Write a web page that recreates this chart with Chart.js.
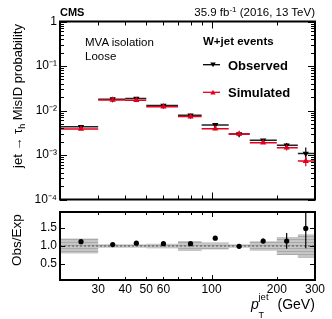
<!DOCTYPE html>
<html>
<head>
<meta charset="utf-8">
<script src="https://cdn.jsdelivr.net/npm/chart.js@4.4.1/dist/chart.umd.min.js"></script>
<style>
  body { margin: 0; background: #fff; }
  #caixa { position: relative; width: 332px; height: 319px; font-family: 'Liberation Sans', Arial, sans-serif; color: #000; }
  #caixa canvas { position: absolute; left: 0; top: 0; }
  .t { position: absolute; line-height: 1; white-space: nowrap; }
</style>
</head>
<body>
<div id="caixa">
  <canvas id="graficoSup" width="332" height="319"></canvas>
  <canvas id="graficoInf" width="332" height="319"></canvas>

  <div class="t" style="left:60px;top:7px;font-size:11px;font-weight:bold">CMS</div>
  <div class="t" style="right:17px;top:7px;font-size:11.5px">35.9 fb<span style="font-size:8px;position:relative;top:-4px">-1</span> (2016, 13 TeV)</div>

  <div class="t" style="left:85px;top:37px;font-size:11.5px">MVA isolation</div>
  <div class="t" style="left:85px;top:51px;font-size:11.5px">Loose</div>

  <div class="t" style="left:203px;top:36px;font-size:11.5px;font-weight:bold">W+jet events</div>
  <div class="t" style="left:228px;top:58.5px;font-size:13px;font-weight:bold">Observed</div>
  <div class="t" style="left:228px;top:85.5px;font-size:13px;font-weight:bold">Simulated</div>
  <svg style="position:absolute;left:200px;top:58px" width="26" height="40">
    <line x1="3" y1="6.7" x2="20" y2="6.7" stroke="#000" stroke-width="1.3"/>
    <polygon points="10.3,4.4 15.7,4.4 13,9.2" fill="#000"/>
    <line x1="3" y1="34.3" x2="20" y2="34.3" stroke="#e3001e" stroke-width="1.3"/>
    <polygon points="10.3,36.6 15.7,36.6 13,31.8" fill="#e3001e"/>
  </svg>

  <div class="t" style="left:17px;top:96px;font-size:13px;transform:translate(-50%,-50%) rotate(-90deg)">jet → τ<span style="font-size:9px;position:relative;top:3px">h</span> MisID probability</div>
  <div class="t" style="left:17px;top:240px;font-size:13.5px;transform:translate(-50%,-50%) rotate(-90deg)">Obs/Exp</div>

  <div class="t" style="left:251px;top:296.7px;font-size:14px;font-style:italic">p</div>
  <div class="t" style="left:258.5px;top:292px;font-size:9.5px">jet</div>
  <div class="t" style="left:258.5px;top:311.3px;font-size:9px">T</div>
  <div class="t" style="left:277.5px;top:296.7px;font-size:14px">(GeV)</div>
</div>

<script>
// bins em pT do jato (GeV)
const bordes = [20, 30, 40, 50, 70, 90, 120, 150, 200, 250, 300];
const centros = [25, 35, 45, 60, 80, 104, 134, 173, 222, 272];

// probabilidade de identificacao errada
const observado = [4.3e-3, 1.80e-2, 1.85e-2, 1.30e-2, 7.8e-3, 4.75e-3, 2.95e-3, 2.15e-3, 1.65e-3, 1.08e-3];
const erroObservado = [0.2e-3, 0.5e-3, 0.6e-3, 0.4e-3, 0.3e-3, 0.3e-3, 0.15e-3, 0.12e-3, 0.2e-3, 0.4e-3];
const simulado = [3.85e-3, 1.73e-2, 1.71e-2, 1.22e-2, 7.3e-3, 3.9e-3, 2.98e-3, 1.89e-3, 1.45e-3, 7.3e-4];
const erroSimulado = [0.25e-3, 0.6e-3, 0.7e-3, 0.5e-3, 0.35e-3, 0.3e-3, 0.15e-3, 0.12e-3, 0.18e-3, 0.17e-3];

// painel de razao Obs/Exp
const razao = [1.12, 1.04, 1.08, 1.065, 1.065, 1.22, 0.99, 1.14, 1.14, 1.49];
const erroRazao = [0.03, 0.02, 0.03, 0.02, 0.03, 0.03, 0.02, 0.07, 0.22, 0.55];
const bandaSistematica = [0.21, 0.05, 0.05, 0.06, 0.14, 0.10, 0.05, 0.13, 0.25, 0.33];

// ticks
const ticksX = [20, 30, 40, 50, 60, 70, 80, 90, 100, 200, 300];
const ticksXRotulados = [30, 40, 50, 60, 100, 200, 300];
const decadasY = [1e-4, 1e-3, 1e-2, 1e-1, 1];
const rotulosDecadasY = ['10⁻⁴', '10⁻³', '10⁻²', '10⁻¹', '1'];
const ticksRazao = [0.5, 1.0, 1.5];
const rotulosRazao = ['0.5', '1.0', '1.5'];

const VERMELHO = '#e3001e';
const fonteTicks = { family: "'Liberation Sans', Arial, sans-serif", size: 12 };

const ticksY = [];
decadasY.forEach((d, i) => {
  ticksY.push({ value: d, major: true });
  if (i < decadasY.length - 1) for (let k = 2; k <= 9; k++) ticksY.push({ value: k * d, major: false });
});

function tramosHorizontais(valores) {
  return valores.flatMap((v, i) => [{ x: bordes[i], y: v }, { x: bordes[i + 1], y: v }, { x: bordes[i + 1], y: null }]);
}

function barrasVerticais(valores, erros) {
  return valores.flatMap((v, i) => [{ x: centros[i], y: v - erros[i] }, { x: centros[i], y: v + erros[i] }, { x: centros[i], y: null }]);
}

function degraus(sinal) {
  const pts = bandaSistematica.map((e, i) => ({ x: bordes[i], y: 1 + sinal * e }));
  pts.push({ x: bordes[bordes.length - 1], y: 1 + sinal * bandaSistematica[bandaSistematica.length - 1] });
  return pts;
}

function padraoListrado() {
  const c = document.createElement('canvas');
  c.width = 4; c.height = 3;
  const g = c.getContext('2d');
  g.fillStyle = '#c6c6c6'; g.fillRect(0, 0, 4, 3);
  g.fillStyle = '#a9a9a9'; g.fillRect(0, 2, 4, 1);
  return g.createPattern(c, 'repeat');
}

// moldura e ticks internos no estilo ROOT
const moldura = {
  id: 'moldura',
  afterDatasetsDraw(chart, args, opts) {
    const { ctx, chartArea: a, scales } = chart;
    ctx.save();
    ctx.strokeStyle = '#000';
    ctx.lineWidth = 1;
    ctx.beginPath();
    ticksX.forEach((v) => {
      if (v <= bordes[0] || v >= bordes[bordes.length - 1]) return;
      const px = Math.round(scales.x.getPixelForValue(v)) + 0.5;
      const len = v === 100 ? opts.xMaior : opts.xMenor;
      ctx.moveTo(px, a.bottom); ctx.lineTo(px, a.bottom - len);
      ctx.moveTo(px, a.top); ctx.lineTo(px, a.top + len);
    });
    opts.ticksY.forEach((t) => {
      const py = Math.round(scales.y.getPixelForValue(t.value)) + 0.5;
      const len = t.major ? opts.yMaior : opts.yMenor;
      ctx.moveTo(a.left, py); ctx.lineTo(a.left + len, py);
      ctx.moveTo(a.right, py); ctx.lineTo(a.right - len, py);
    });
    ctx.stroke();
    ctx.lineWidth = 2;
    ctx.strokeRect(a.left, a.top, a.right - a.left, a.bottom - a.top);
    ctx.restore();
  }
};

new Chart(document.getElementById('graficoSup'), {
  type: 'line',
  data: {
    datasets: [
      { data: centros.map((x, i) => ({ x, y: simulado[i] })), showLine: false, pointStyle: 'triangle', pointRadius: 3.6, backgroundColor: VERMELHO, borderColor: VERMELHO, borderWidth: 0 },
      { data: centros.map((x, i) => ({ x, y: observado[i] })), showLine: false, pointStyle: 'triangle', rotation: 180, pointRadius: 3.6, backgroundColor: '#000', borderColor: '#000', borderWidth: 0 },
      { data: barrasVerticais(simulado, erroSimulado), borderColor: VERMELHO, borderWidth: 1.2, pointRadius: 0 },
      { data: barrasVerticais(observado, erroObservado), borderColor: '#000', borderWidth: 1.2, pointRadius: 0 },
      { data: tramosHorizontais(simulado), borderColor: VERMELHO, borderWidth: 1.5, pointRadius: 0 },
      { data: tramosHorizontais(observado), borderColor: '#222', borderWidth: 1.5, pointRadius: 0 }
    ]
  },
  options: {
    responsive: false,
    animation: false,
    events: [],
    layout: { padding: { left: 0, right: 17, top: 21.5, bottom: 119.5 } },
    plugins: {
      legend: { display: false },
      tooltip: { enabled: false },
      moldura: { ticksY, xMaior: 7, xMenor: 4, yMaior: 7, yMenor: 4 }
    },
    scales: {
      x: { type: 'logarithmic', min: 20, max: 300, display: false },
      y: {
        type: 'logarithmic', min: 1e-4, max: 1,
        afterFit: (s) => { s.width = 60; },
        afterBuildTicks: (s) => { s.ticks = ticksY.map((t) => ({ value: t.value })); },
        grid: { display: false, drawTicks: false },
        border: { display: false },
        ticks: {
          autoSkip: false, padding: 3, color: '#000', font: fonteTicks,
          callback: (v) => {
            const i = decadasY.findIndex((d) => Math.abs(d - v) / d < 1e-6);
            return i >= 0 ? rotulosDecadasY[i] : '';
          }
        }
      }
    }
  },
  plugins: [moldura]
});

new Chart(document.getElementById('graficoInf'), {
  type: 'line',
  data: {
    datasets: [
      { data: centros.map((x, i) => ({ x, y: razao[i] })), showLine: false, pointStyle: 'circle', pointRadius: 2.6, backgroundColor: '#000', borderWidth: 0 },
      { data: barrasVerticais(razao, erroRazao), borderColor: '#000', borderWidth: 1.2, pointRadius: 0 },
      { data: [{ x: 20, y: 1 }, { x: 300, y: 1 }], borderColor: '#555', borderWidth: 1, borderDash: [2, 2], pointRadius: 0 },
      { data: degraus(1), stepped: 'before', borderWidth: 0, pointRadius: 0, fill: '+1', backgroundColor: padraoListrado() },
      { data: degraus(-1), stepped: 'before', borderWidth: 0, pointRadius: 0, fill: false }
    ]
  },
  options: {
    responsive: false,
    animation: false,
    events: [],
    layout: { padding: { left: 0, right: 17, top: 212, bottom: 0 } },
    plugins: {
      legend: { display: false },
      tooltip: { enabled: false },
      moldura: { ticksY: ticksRazao.map((v) => ({ value: v, major: true })), xMaior: 5, xMenor: 3, yMaior: 5, yMenor: 3 }
    },
    scales: {
      x: {
        type: 'logarithmic', min: 20, max: 300,
        afterFit: (s) => { s.height = 39; },
        afterBuildTicks: (s) => { s.ticks = ticksX.map((v) => ({ value: v })); },
        grid: { display: false, drawTicks: false },
        border: { display: false },
        ticks: {
          autoSkip: false, maxRotation: 0, padding: 2, color: '#000', font: fonteTicks,
          callback: (v) => (ticksXRotulados.includes(v) ? String(v) : '')
        }
      },
      y: {
        min: 0.05, max: 1.95,
        afterFit: (s) => { s.width = 60; },
        afterBuildTicks: (s) => { s.ticks = ticksRazao.map((v) => ({ value: v })); },
        grid: { display: false, drawTicks: false },
        border: { display: false },
        ticks: {
          autoSkip: false, padding: 3, color: '#000', font: fonteTicks,
          callback: (v) => rotulosRazao[ticksRazao.indexOf(v)] ?? ''
        }
      }
    }
  },
  plugins: [moldura]
});
</script>
</body>
</html>
